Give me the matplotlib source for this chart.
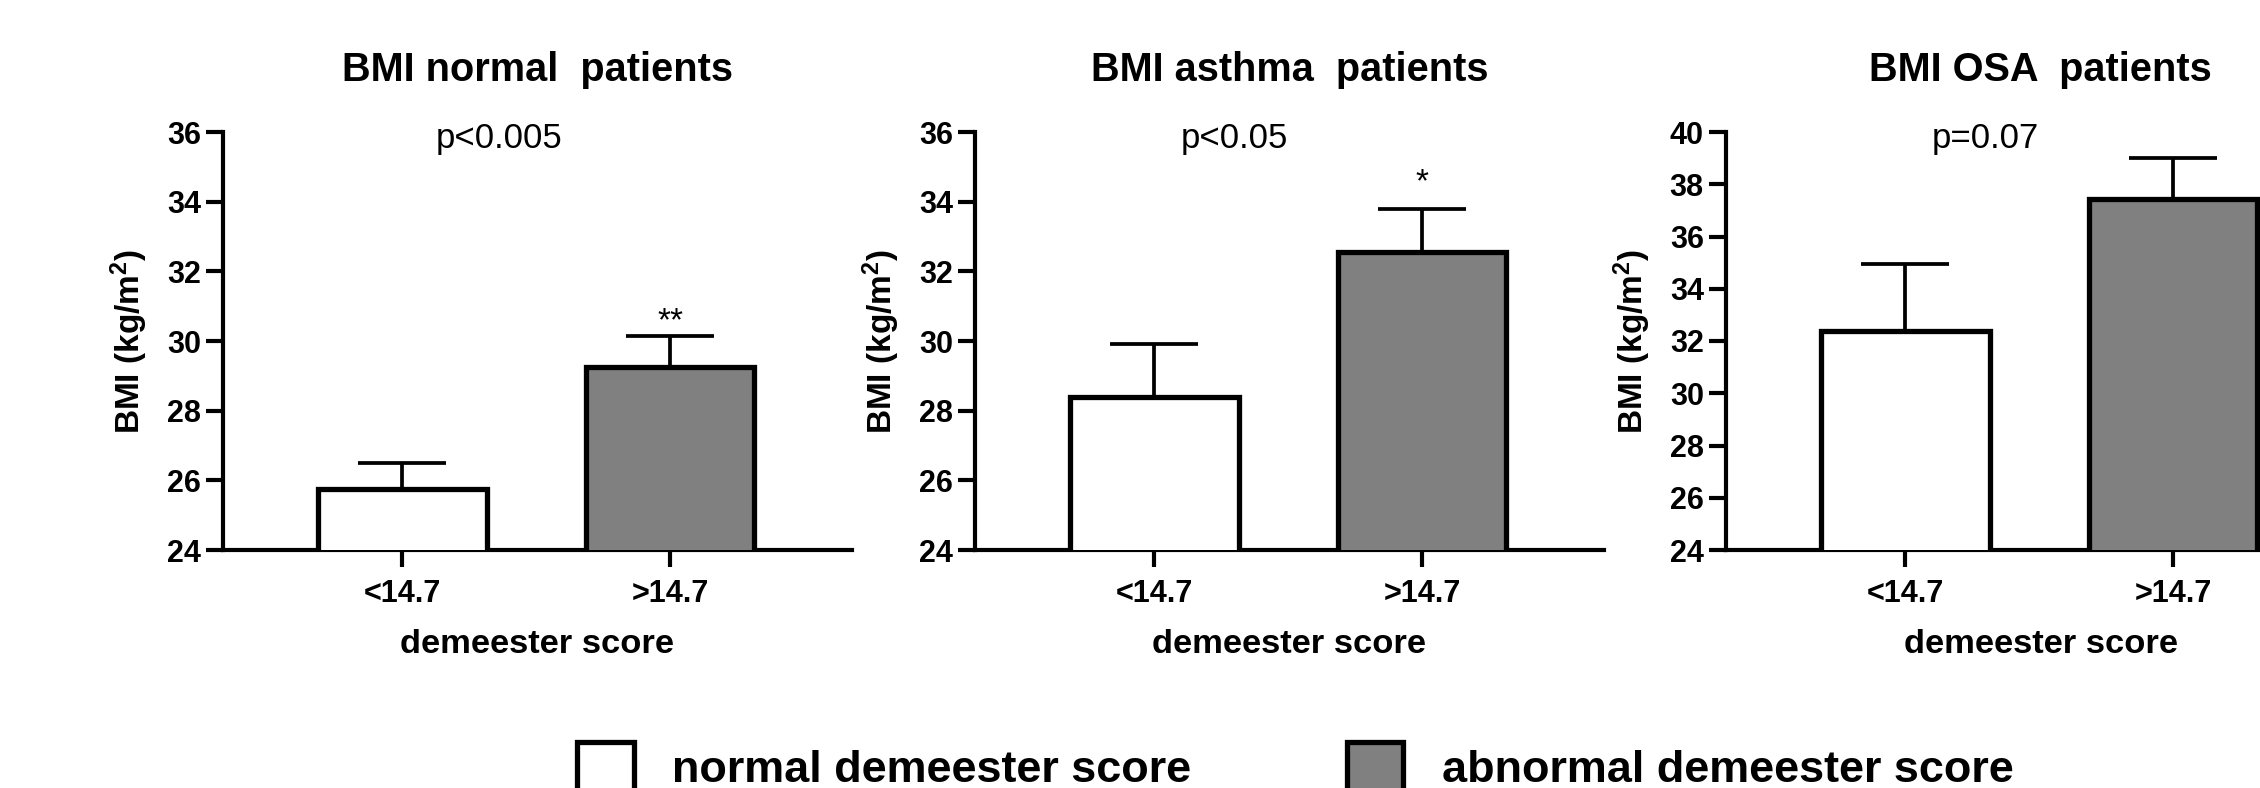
import matplotlib
matplotlib.use("Agg")
import matplotlib.pyplot as plt
from matplotlib.patches import Patch

plt.rcParams["font.family"] = ["Liberation Sans", "DejaVu Sans"]
plt.rcParams["mathtext.default"] = "regular"

# values
categories = ["<14.7", ">14.7"]
titles = ["BMI normal  patients", "BMI asthma  patients", "BMI OSA  patients"]
normal_mean = [25.75, 28.4, 32.4]
normal_err = [0.75, 1.5, 2.55]
abnormal_mean = [29.25, 32.55, 37.42]
abnormal_err = [0.9, 1.25, 1.6]
p_labels = ["p<0.005", "p<0.05", "p=0.07"]
p_x = [0.36, 0.30, 0.30]
stars = ["**", "*", ""]
y_max = [36, 36, 40]
legend_labels = ["normal demeester score", "abnormal demeester score"]

W, H = 2260, 788
fig = plt.figure(figsize=(W / 100, H / 100), dpi=100)

ax_w = 629 / W
ax_h = 418 / H
bottom = 1 - 550 / H
lefts = [223 / W, 975 / W, 1726 / W]

colors = ["white", "#808080"]
for i in range(3):
    ax = fig.add_axes([lefts[i], bottom, ax_w, ax_h])
    means = [normal_mean[i], abnormal_mean[i]]
    errs = [normal_err[i], abnormal_err[i]]
    x = range(len(categories))
    ax.bar(x, means, width=0.63, bottom=0, color=colors, edgecolor="black",
           linewidth=3.8, zorder=3)
    ax.errorbar(x, means, yerr=[[0, 0], errs], fmt="none", ecolor="black",
                elinewidth=2.7, capsize=32, capthick=2.7, zorder=2)
    ax.set_ylim(24, y_max[i])
    ax.set_xlim(-0.67, 1.68)
    ax.set_yticks(range(24, y_max[i] + 1, 2))
    ax.set_xticks(list(x))
    ax.set_xticklabels(categories)
    for s in ["top", "right"]:
        ax.spines[s].set_visible(False)
    for s in ["left", "bottom"]:
        ax.spines[s].set_linewidth(3)
    ax.tick_params(axis="both", width=3, length=12, labelsize=22, pad=4)
    ax.tick_params(axis="x", pad=9)
    for lab in ax.get_xticklabels() + ax.get_yticklabels():
        lab.set_fontweight("bold")
    ax.set_ylabel("BMI (kg/m$^2$)", fontsize=24, fontweight="bold", labelpad=12)
    ax.set_xlabel("demeester score", fontsize=24.8, fontweight="bold", labelpad=14)
    ax.set_title(titles[i], fontsize=28.6, fontweight="bold", pad=37)
    ax.text(p_x[i], 0.985, p_labels[i], transform=ax.get_xaxis_transform(),
            ha="center", va="center", fontsize=25)
    if stars[i]:
        star_y = abnormal_mean[i] + abnormal_err[i] + (0.17 if i == 0 else 0.5)
        ax.text(1, star_y, stars[i], ha="center", va="baseline", fontsize=24)

handles = [Patch(facecolor=c, edgecolor="black", linewidth=3.8) for c in colors]
fig.legend(handles, legend_labels, loc="upper left",
           bbox_to_anchor=(577 / W, 1 - 742 / H), ncol=2, frameon=False,
           prop={"size": 32.4, "weight": "bold"}, handlelength=1.26,
           handleheight=1.3, handletextpad=0.86, columnspacing=3.45,
           borderpad=0, borderaxespad=0)

fig.savefig("out.png", dpi=100)
